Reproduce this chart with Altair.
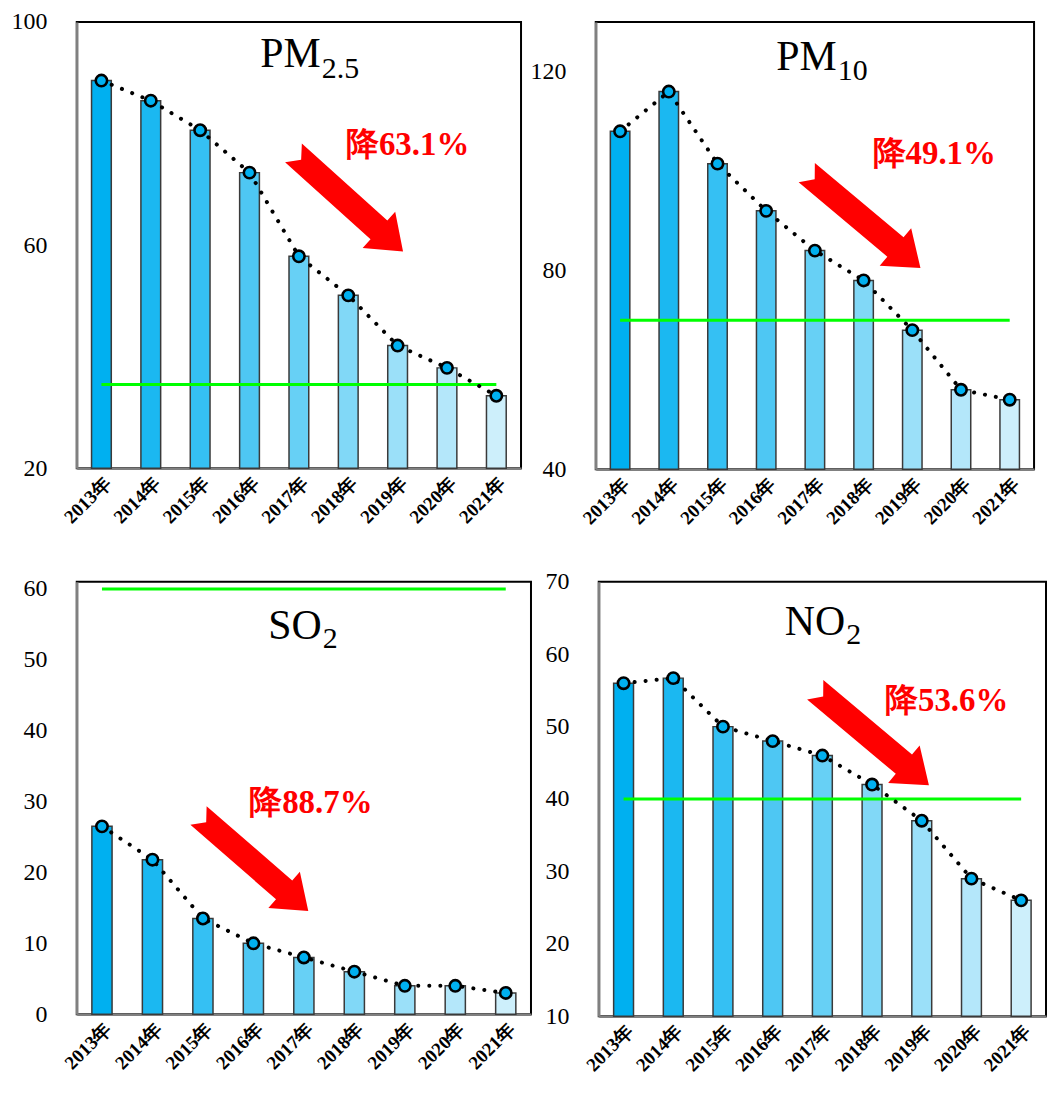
import altair as alt
import pandas as pd

# ---- data ----
years = ["2013年", "2014年", "2015年", "2016年", "2017年", "2018年", "2019年", "2020年", "2021年"]
pm25 = [89.5, 85.9, 80.6, 73.0, 58.0, 51.0, 42.0, 38.0, 33.0]
pm10 = [108.0, 116.0, 101.5, 92.0, 84.0, 78.0, 68.0, 56.0, 54.0]
so2 = [26.5, 21.8, 13.5, 10.0, 8.0, 6.0, 4.0, 4.0, 3.0]
no2 = [56.0, 56.7, 50.0, 48.0, 46.0, 42.0, 37.0, 29.0, 26.0]
standards = [35, 70, 60, 40]
drops = ["降63.1%", "降49.1%", "降88.7%", "降53.6%"]
bar_colors = ["#00B0F0", "#1BB8F1", "#35C0F3", "#4EC7F3", "#67D0F5", "#81D8F7", "#9BE0F9", "#B4E7FA", "#CDEFFB"]

SERIF = "Liberation Serif"
ARROW = "M -1 -0.17 L 0.56 -0.17 L 0.56 -0.33 L 1 0 L 0.56 0.33 L 0.56 0.17 L -1 0.17 L -0.86 0 Z"


def panel(values, std, drop, ydom, yticks, w, h, title_main, title_sub,
          t_cat, t_dx, t_y, s_y, l_cat, l_dx, l_y, a_cat, a_dx, a_y, a_angle, a_len):
    df = pd.DataFrame({"year": years, "value": values})
    x = alt.X("year:N", sort=years, title=None,
              scale=alt.Scale(paddingInner=0.6, paddingOuter=0.3),
              axis=alt.Axis(labelAngle=-45, labelFont=SERIF, labelFontSize=19,
                            labelFontWeight="bold", labelPadding=5))
    y = alt.Y("value:Q", title=None,
              scale=alt.Scale(domain=ydom, nice=False, zero=False),
              axis=alt.Axis(values=yticks, labelFont=SERIF, labelFontSize=24,
                            labelPadding=30))
    base = alt.Chart(df).encode(x=x, y=y)
    bars = base.mark_bar(stroke="#3a3a3a", strokeWidth=1.5).encode(
        y2=alt.datum(ydom[0]),
        color=alt.Color("year:N", sort=years,
                        scale=alt.Scale(domain=years, range=bar_colors), legend=None))
    std_df = pd.DataFrame({"x1": [years[0]], "x2": [years[-1]], "v": [std]})
    rule = alt.Chart(std_df).mark_rule(color="#00FF00", strokeWidth=3).encode(
        x=alt.X("x1:N", sort=years), x2="x2:N", y="v:Q")
    line = base.mark_line(color="black", strokeWidth=4, strokeDash=[0.1, 11],
                          strokeCap="round")
    pts = base.mark_point(filled=True, size=130, fill="#00B0F0", stroke="black",
                          strokeWidth=2.6, opacity=1)

    arrow_df = pd.DataFrame({"x": [a_cat], "v": [a_y]})
    arrow = alt.Chart(arrow_df).mark_point(
        shape=ARROW, size=a_len * a_len, angle=a_angle, filled=True,
        fill="#FF0000", opacity=1, strokeWidth=0, dx=a_dx).encode(
        x=alt.X("x:N", sort=years), y="v:Q")

    lab_df = pd.DataFrame({"x": [l_cat], "v": [l_y], "t": [drop]})
    label = alt.Chart(lab_df).mark_text(
        font=SERIF, fontSize=33, fontWeight="bold", color="#FF0000",
        align="center", baseline="middle", dx=l_dx).encode(
        x=alt.X("x:N", sort=years), y="v:Q", text="t:N")

    tm_df = pd.DataFrame({"x": [t_cat], "v": [t_y], "t": [title_main]})
    tmain = alt.Chart(tm_df).mark_text(
        font=SERIF, fontSize=42, color="black", align="right",
        baseline="alphabetic", dx=t_dx).encode(
        x=alt.X("x:N", sort=years), y="v:Q", text="t:N")
    ts_df = pd.DataFrame({"x": [t_cat], "v": [s_y], "t": [title_sub]})
    tsub = alt.Chart(ts_df).mark_text(
        font=SERIF, fontSize=30, color="black", align="left",
        baseline="alphabetic", dx=t_dx + 1).encode(
        x=alt.X("x:N", sort=years), y="v:Q", text="t:N")

    return alt.layer(bars, rule, line, pts, arrow, label, tmain, tsub).properties(
        width=w, height=h)


p1 = panel(pm25, standards[0], drops[0], [20, 100], [20, 60, 100], 446, 448,
           "PM", "2.5", "2017年", 22, 92.0, 89.9,
           "2019年", 10, 77.9, "2018年", -1.5, 67.7, 42, 148)
p2 = panel(pm10, standards[1], drops[1], [40, 130], [40, 80, 120], 440, 449,
           "PM", "10", "2017年", 22, 120.4, 118.4,
           "2019年", 22, 103.4, "2018年", 11, 90.1, 40, 149)
p3 = panel(so2, standards[2], drops[2], [0, 61], [0, 10, 20, 30, 40, 50, 60], 456, 434,
           "SO", "2", "2017年", 18, 53.0, 51.7,
           "2017年", 7, 29.8, "2016年", -5.5, 21.3, 41, 146)
p4 = panel(no2, standards[3], drops[3], [10, 70], [10, 20, 30, 40, 50, 60, 70], 449, 436,
           "NO", "2", "2017年", 23, 62.7, 61.4,
           "2019年", 25, 53.6, "2018年", 1.5, 48.5, 40, 149)

chart = alt.vconcat(
    alt.hconcat(p1, p2, spacing=7),
    alt.hconcat(p3, p4, spacing=12),
    spacing=40,
).properties(padding={"left": 2, "top": -1, "right": 0, "bottom": 0}
).configure_view(stroke="black", strokeWidth=2
).configure_axis(grid=False, ticks=False, domainColor="#808080", domainWidth=2.5,
                 labelColor="black")

chart.save("out.html", embed_options={"renderer": "svg", "actions": False})
